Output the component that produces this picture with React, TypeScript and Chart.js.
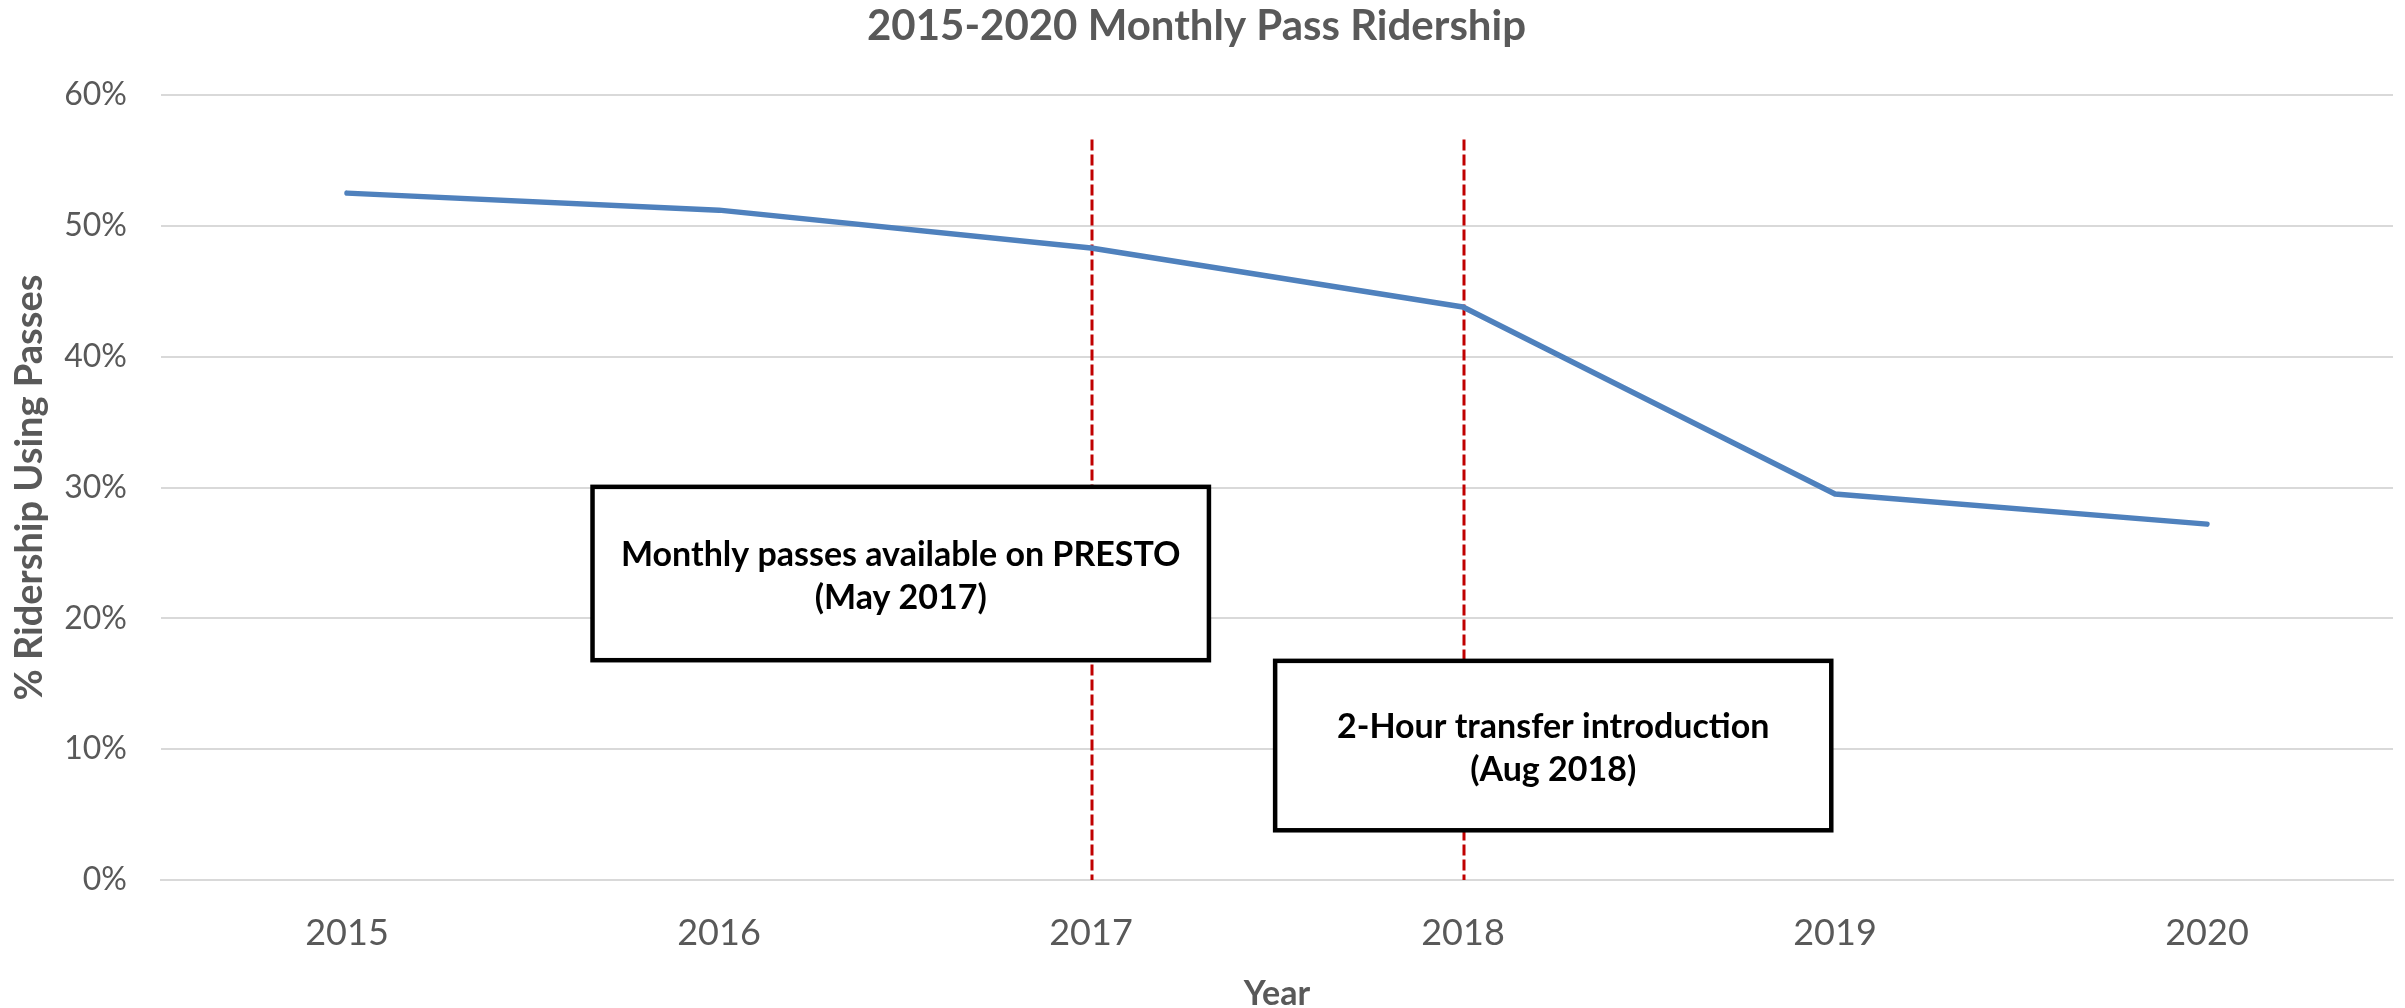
import React, { useEffect, useRef } from "react";
import { Chart, registerables } from "chart.js";

Chart.register(...registerables);

// ---- data ----
const years = ["2015", "2016", "2017", "2018", "2019", "2020"];
const passShare = [52.5, 51.2, 48.3, 43.8, 29.5, 27.2];
const yTickMin = 0;
const yTickMax = 60;
const yTickStep = 10;

const chartTitle = "2015-2020 Monthly Pass Ridership";
const xTitle = "Year";
const yTitle = "% Ridership Using Passes";

// event markers (dashed vertical lines)
const markerYears = ["2017", "2018"];
const markerTopValue = 56.6;

// annotation notes (data coordinates: category index / percent)
const noteLines = [
  ["Monthly passes available on PRESTO", "(May 2017)"],
  ["2-Hour transfer introduction", "(Aug 2018)"],
];
const noteXStart = [0.66, 2.495];
const noteXEnd = [2.317, 3.99];
const noteYTop = [30.05, 16.75];
const noteYBottom = [16.8, 3.8];

const notesPlugin = {
  id: "notes",
  beforeDatasetsDraw(chart: any) {
    const { ctx, scales } = chart;
    const x = scales.x;
    const y = scales.y;
    ctx.save();
    ctx.strokeStyle = "#C00000";
    ctx.lineWidth = 3;
    ctx.setLineDash([11, 4]);
    markerYears.forEach((yr) => {
      const px = x.getPixelForValue(years.indexOf(yr)) + 1;
      ctx.beginPath();
      ctx.moveTo(px, y.getPixelForValue(markerTopValue));
      ctx.lineTo(px, y.getPixelForValue(0));
      ctx.stroke();
    });
    ctx.restore();
  },
  afterDatasetsDraw(chart: any) {
    const { ctx, scales } = chart;
    const x = scales.x;
    const y = scales.y;
    ctx.save();
    noteLines.forEach((lines, i) => {
      const x0 = x.getPixelForValue(noteXStart[i]);
      const x1 = x.getPixelForValue(noteXEnd[i]);
      const y0 = y.getPixelForValue(noteYTop[i]);
      const y1 = y.getPixelForValue(noteYBottom[i]);
      ctx.fillStyle = "#FFFFFF";
      ctx.fillRect(x0, y0, x1 - x0, y1 - y0);
      ctx.strokeStyle = "#000000";
      ctx.lineWidth = 4.5;
      ctx.setLineDash([]);
      ctx.strokeRect(x0, y0, x1 - x0, y1 - y0);
      ctx.fillStyle = "#000000";
      ctx.font = "bold 34px Lato";
      ctx.textAlign = "center";
      ctx.textBaseline = "alphabetic";
      const cx = (x0 + x1) / 2;
      const cy = (y0 + y1) / 2;
      ctx.fillText(lines[0], cx, cy - 8);
      ctx.fillText(lines[1], cx, cy + 35);
    });
    ctx.restore();
  },
};

export default function App() {
  const canvasRef = useRef<HTMLCanvasElement | null>(null);

  useEffect(() => {
    document.body.style.margin = "0";
    const canvas = canvasRef.current;
    if (!canvas) return;
    const chart = new Chart(canvas, {
      type: "line",
      data: {
        labels: years,
        datasets: [
          {
            label: "Monthly Pass Share",
            data: passShare,
            borderColor: "#4F81BD",
            backgroundColor: "#4F81BD",
            borderWidth: 5.5,
            borderCapStyle: "round",
            borderJoinStyle: "round",
            pointRadius: 0,
            pointHoverRadius: 0,
            tension: 0,
            fill: false,
          },
        ],
      },
      options: {
        responsive: false,
        animation: false,
        devicePixelRatio: 1,
        layout: { padding: { left: 0, right: 12, top: 0, bottom: 0 } },
        plugins: {
          legend: { display: false },
          tooltip: { enabled: false },
          title: {
            display: true,
            text: chartTitle,
            color: "#595959",
            font: { family: "Lato", size: 42, weight: "bold", lineHeight: 1.2 },
            padding: { top: 1, bottom: 43.6 },
          },
        },
        scales: {
          x: {
            type: "category",
            offset: true,
            afterFit: (scale: any) => {
              scale.height = 128;
            },
            grid: { display: false, drawTicks: false },
            border: { display: true, color: "#D9D9D9", width: 2 },
            ticks: {
              color: "#595959",
              font: { family: "Lato", size: 36, lineHeight: 1.2 },
              padding: 32,
              maxRotation: 0,
            },
            title: {
              display: true,
              text: xTitle,
              color: "#595959",
              font: { family: "Lato", size: 34, weight: "bold", lineHeight: 0.85 },
              padding: { top: 0, bottom: 0 },
            },
          },
          y: {
            min: yTickMin,
            max: yTickMax,
            afterFit: (scale: any) => {
              scale.width = 161;
            },
            grid: { color: "#D9D9D9", lineWidth: 2, drawTicks: false },
            border: { display: false },
            ticks: {
              stepSize: yTickStep,
              color: "#595959",
              font: { family: "Lato", size: 32, lineHeight: 1.2 },
              padding: 34,
              callback: (v: any) => v + "%",
            },
            title: {
              display: true,
              text: yTitle,
              color: "#595959",
              font: { family: "Lato", size: 38, weight: "bold", lineHeight: 1.2 },
              padding: { top: 7.2, bottom: 0 },
            },
          },
        },
      },
      plugins: [notesPlugin],
    });
    return () => chart.destroy();
  }, []);

  return (
    <div style={{ width: 2405, height: 1008 }}>
      <canvas ref={canvasRef} width={2405} height={1008} style={{ display: "block" }} />
    </div>
  );
}
